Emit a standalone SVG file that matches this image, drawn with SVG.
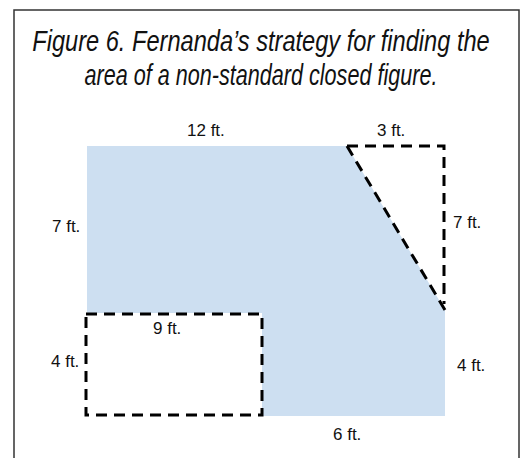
<svg xmlns="http://www.w3.org/2000/svg" width="522" height="458" viewBox="0 0 522 458">
<style>
.title{font-family:"Liberation Sans",Arial,sans-serif;font-style:italic;font-size:30px;fill:#111}
.lbl{font-family:"Liberation Sans",Arial,sans-serif;font-size:17px;fill:#111}
.dash{fill:none;stroke:#000;stroke-width:3;stroke-dasharray:11 7}
</style>
<rect x="0" y="0" width="522" height="458" fill="#fff"/>
<rect x="14" y="10" width="505" height="452" fill="none" stroke="#333" stroke-width="1.5"/>
<text class="title" transform="translate(261,51) scale(0.787,1)" x="0" y="0" text-anchor="middle">Figure 6. Fernanda’s strategy for finding the</text>
<text class="title" transform="translate(261,85) scale(0.72,1)" x="0" y="0" text-anchor="middle">area of a non-standard closed figure.</text>
<g id="shape">
<polygon points="87,146 347,146 445,310 445,416 262,416 262,313 87,313" fill="#cddff1"/>
</g>
<g id="triangle">
<path class="dash" d="M347,146 L444,146 L444,304"/>
<path class="dash" d="M347,146 L445,310"/>
</g>
<g id="rectangle">
<rect class="dash" x="86" y="314" width="176" height="101"/>
</g>
<g id="labels">
<text class="lbl" x="187" y="136">12 ft.</text>
<text class="lbl" x="377" y="136">3 ft.</text>
<text class="lbl" x="52" y="232">7 ft.</text>
<text class="lbl" x="453" y="228">7 ft.</text>
<text class="lbl" x="153" y="334">9 ft.</text>
<text class="lbl" x="51" y="367">4 ft.</text>
<text class="lbl" x="457" y="371">4 ft.</text>
<text class="lbl" x="333" y="440">6 ft.</text>
</g>
</svg>
